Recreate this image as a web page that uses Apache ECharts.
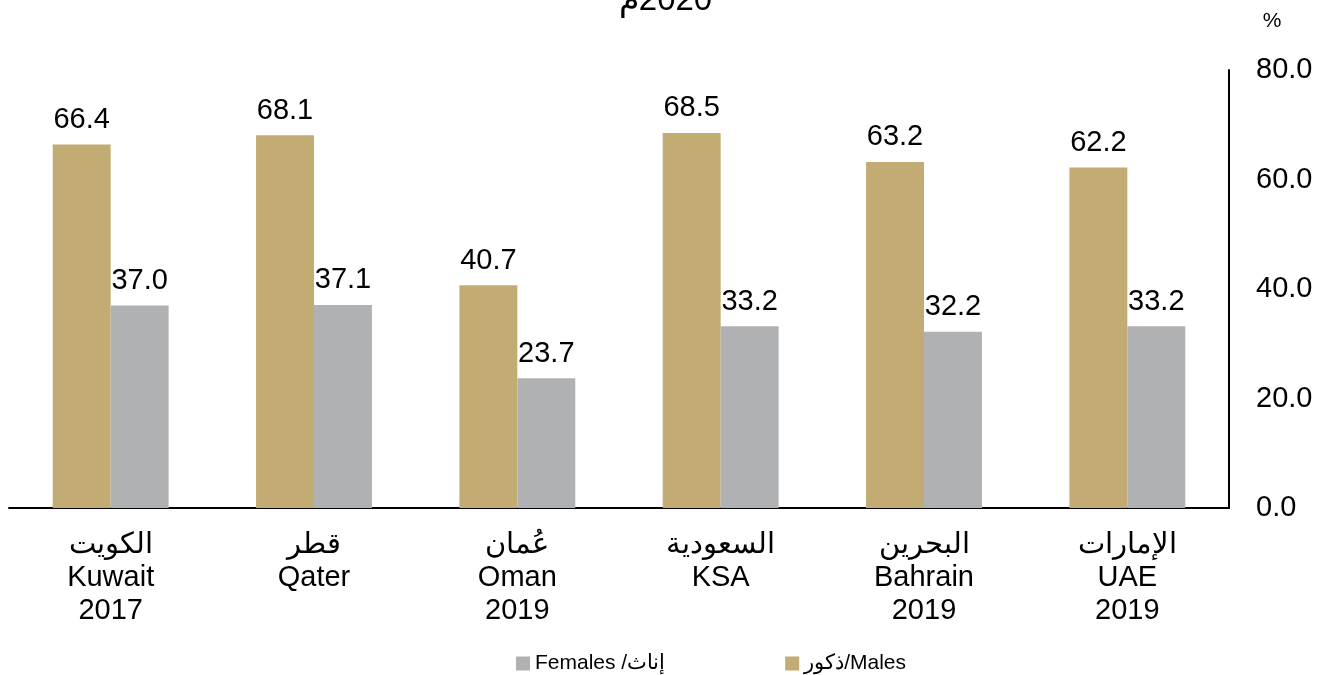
<!DOCTYPE html>
<html>
<head>
<meta charset="utf-8">
<script src="https://cdn.jsdelivr.net/npm/echarts@6/dist/echarts.min.js"></script>
<style>
html,body{margin:0;padding:0;background:#fff;}
#main{width:1331px;height:675px;}
</style>
</head>
<body>
<div id="main"></div>
<script>
// categories (arabic / english / year)
var categories = [
	"الكويت\nKuwait\n2017",
	"قطر\nQater",
	"عُمان\nOman\n2019",
	"السعودية\nKSA",
	"البحرين\nBahrain\n2019",
	"الإمارات\nUAE\n2019"
];
var males = [66.4, 68.1, 40.7, 68.5, 63.2, 62.2];
var females = [37.0, 37.1, 23.7, 33.2, 32.2, 33.2];
var maleName = "ذكور/Males";
var femaleName = "Females /إناث";

var font = "Liberation Sans";
var myChart = echarts.init(document.getElementById("main"));

myChart.setOption({
	backgroundColor: '#fff',
	animation: false,
	title: {
		text: "\u202Dم2020\u202C", // force arabic letter left of the year, like the original
		left: 'center',
		top: -21,
		textStyle: {fontFamily: font, fontSize: 33, fontWeight: 'normal', color: '#000'}
	},
	legend: {
		data: [femaleName, maleName],
		left: 511,
		top: 648,
		icon: 'rect',
		itemWidth: 14,
		itemHeight: 14,
		itemGap: 120,
		textStyle: {fontFamily: font, fontSize: 21, color: '#000'}
	},
	grid: {left: 9, right: 102, top: 70, bottom: 167, containLabel: false},
	xAxis: {
		type: 'category',
		data: categories,
		axisLine: {show: true, lineStyle: {color: '#000', width: 2}},
		axisTick: {show: false},
		axisLabel: {
			fontFamily: font, fontSize: 29, color: '#000',
			lineHeight: 33, margin: 20, interval: 0
		}
	},
	yAxis: {
		type: 'value',
		position: 'right',
		min: 0, max: 80, interval: 20,
		name: '%',
		nameLocation: 'end',
		nameGap: 38,
		nameTextStyle: {fontFamily: font, fontSize: 21, color: '#000', padding: [0, 0, 0, 86]},
		axisLine: {show: true, lineStyle: {color: '#000', width: 2}},
		axisTick: {show: false},
		splitLine: {show: false},
		axisLabel: {
			fontFamily: font, fontSize: 29, color: '#000', margin: 27,
			formatter: function (v) { return v.toFixed(1); }
		}
	},
	series: [
		{
			name: maleName,
			type: 'bar',
			data: males,
			barGap: '0%',
			barCategoryGap: '43%',
			itemStyle: {color: '#C2AC73'},
			label: {
				show: true, position: 'top', distance: 10,
				fontFamily: font, fontSize: 29, color: '#000',
				formatter: function (p) { return p.value.toFixed(1); }
			}
		},
		{
			name: femaleName,
			type: 'bar',
			data: females,
			itemStyle: {color: '#B0B1B3'},
			label: {
				show: true, position: 'top', distance: 10,
				fontFamily: font, fontSize: 29, color: '#000',
				formatter: function (p) { return p.value.toFixed(1); }
			}
		}
	]
});
</script>
</body>
</html>
